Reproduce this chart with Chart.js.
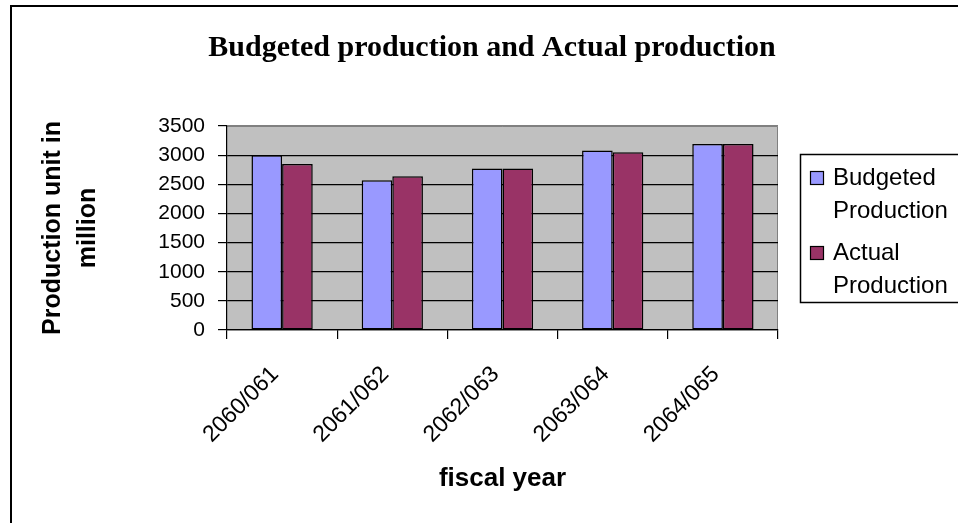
<!DOCTYPE html>
<html>
<head>
<meta charset="utf-8">
<script src="https://cdn.jsdelivr.net/npm/chart.js@4/dist/chart.umd.min.js"></script>
<style>
  body { margin: 0; background: #fff; }
  canvas { display: block; }
</style>
</head>
<body>
<canvas id="myChart" width="958" height="523"></canvas>
<script>
const fiscalYears = ['2060/061', '2061/062', '2062/063', '2063/064', '2064/065'];
const budgeted = [3000, 2570, 2770, 3080, 3190];
const actual = [2850, 2640, 2770, 3050, 3190];
const seriesNames = ['Budgeted Production', 'Actual Production'];
const yTickLabels = ['0', '500', '1000', '1500', '2000', '2500', '3000', '3500'];
const chartTitle = 'Budgeted production and Actual production';

// grey plot area, outer frame and the heading
const plotBackground = {
    id: 'plotBackground',
    beforeDraw(chart) {
        const ctx = chart.ctx;
        const a = chart.chartArea;
        ctx.save();
        ctx.fillStyle = '#fff';
        ctx.fillRect(0, 0, chart.width, chart.height);
        ctx.strokeStyle = '#000';
        ctx.lineWidth = 2;
        ctx.strokeRect(11, 6, 1000, 1000);

        ctx.fillStyle = '#000';
        ctx.font = 'bold 30px "Liberation Serif", "Times New Roman", serif';
        ctx.textAlign = 'center';
        ctx.textBaseline = 'alphabetic';
        ctx.fillText(chartTitle, 492, 56);

        ctx.fillStyle = '#c0c0c0';
        ctx.fillRect(a.left, a.top, a.right - a.left, a.bottom - a.top);
        ctx.strokeStyle = '#808080';
        ctx.lineWidth = 1;
        ctx.beginPath();
        ctx.moveTo(a.left, a.top + 0.5);
        ctx.lineTo(a.right - 0.5, a.top + 0.5);
        ctx.lineTo(a.right - 0.5, a.bottom);
        ctx.stroke();
        ctx.restore();
    }
};

// boxed legend with the series names wrapped onto two lines
const boxLegend = {
    id: 'boxLegend',
    afterDraw(chart) {
        const ctx = chart.ctx;
        ctx.save();
        ctx.strokeStyle = '#000';
        ctx.lineWidth = 1.5;
        ctx.strokeRect(800.5, 154.5, 200, 148);
        ctx.font = '24px "Liberation Sans", Arial, sans-serif';
        ctx.textBaseline = 'alphabetic';
        chart.data.datasets.forEach((ds, i) => {
            const top = 171 + i * 75;
            ctx.fillStyle = ds.backgroundColor;
            ctx.fillRect(810, top, 14, 14);
            ctx.strokeStyle = '#000';
            ctx.lineWidth = 1.2;
            ctx.strokeRect(810.5, top + 0.5, 13, 13);
            ctx.fillStyle = '#000';
            ds.label.split(' ').forEach((line, j) => {
                ctx.fillText(line, 833, top + 14 + j * 33);
            });
        });
        ctx.restore();
    }
};

const ctx = document.getElementById('myChart').getContext('2d');
const chart = new Chart(ctx, {
    type: 'bar',
    data: {
        labels: fiscalYears,
        datasets: [{
            label: seriesNames[0],
            data: budgeted,
            backgroundColor: '#9999ff',
            borderColor: '#000',
            borderWidth: 1.5,
            borderSkipped: false
        }, {
            label: seriesNames[1],
            data: actual,
            backgroundColor: '#993366',
            borderColor: '#000',
            borderWidth: 1.5,
            borderSkipped: false
        }]
    },
    options: {
        responsive: false,
        animation: false,
        layout: {
            padding: { left: 12, right: 180, top: 126, bottom: 0 }
        },
        datasets: {
            bar: { categoryPercentage: 0.556, barPercentage: 1 }
        },
        plugins: {
            legend: { display: false },
            tooltip: { enabled: false },
            title: { display: false }
        },
        scales: {
            x: {
                afterFit(scale) { scale.height = 193; },
                grid: {
                    drawOnChartArea: false,
                    drawTicks: true,
                    tickLength: 9,
                    color: '#000',
                    tickColor: '#000',
                    lineWidth: 1.2
                },
                border: { color: '#000', width: 1.2 },
                ticks: {
                    color: '#000',
                    minRotation: 45,
                    maxRotation: 45,
                    autoSkip: false,
                    padding: 22,
                    labelOffset: -7,
                    font: { family: '"Liberation Sans", Arial, sans-serif', size: 23 }
                },
                title: {
                    display: true,
                    text: 'fiscal year',
                    color: '#000',
                    font: { family: '"Liberation Sans", Arial, sans-serif', size: 26, weight: 'bold' },
                    padding: { top: 0, bottom: 29 }
                }
            },
            y: {
                min: 0,
                max: 3500,
                afterFit(scale) { scale.width = 215; },
                grid: {
                    color: (c) => (c.tick && c.tick.value === 3500 ? '#808080' : '#000'),
                    tickColor: '#000',
                    tickLength: 9,
                    lineWidth: 1.2
                },
                border: { color: '#000', width: 1.2 },
                ticks: {
                    stepSize: 500,
                    color: '#000',
                    padding: 13,
                    font: { family: '"Liberation Sans", Arial, sans-serif', size: 21 },
                    callback: (value, index) => yTickLabels[index]
                },
                title: {
                    display: true,
                    text: ['Production unit in', 'million'],
                    color: '#000',
                    font: { family: '"Liberation Sans", Arial, sans-serif', size: 25, weight: 'bold', lineHeight: 1.4 },
                    padding: { top: 24, bottom: 0 }
                }
            }
        }
    },
    plugins: [plotBackground, boxLegend]
});
</script>
</body>
</html>
